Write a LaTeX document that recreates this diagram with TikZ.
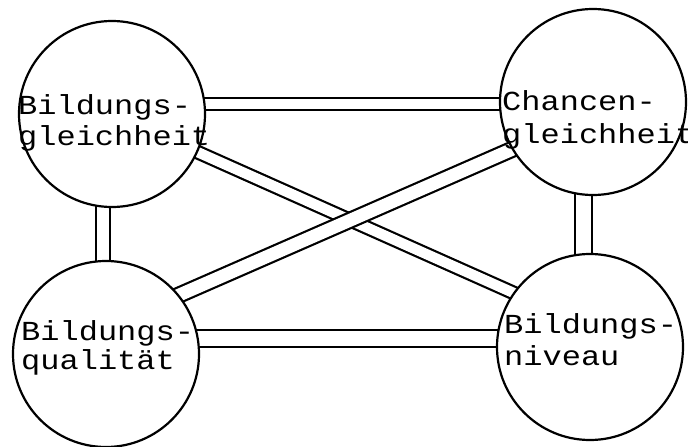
\documentclass[tikz,border=0pt]{standalone}
\usepackage{fontspec}
\usepackage{graphicx}
\newfontfamily\typew{Liberation Mono}
\newcommand\twtext[1]{\scalebox{1}[0.86]{#1}}
\usetikzlibrary{backgrounds}
\begin{document}
\begin{tikzpicture}[x=1pt,y=-1pt,
  bubble/.style={circle,draw,line width=2.2pt,fill=white,minimum size=186pt,inner sep=0pt},
  lbl/.style={anchor=base west,inner sep=0pt,font=\typew\fontsize{32}{32}\selectfont},
  conn/.style={line width=2.2pt,double=white,double distance=#1},
  conn/.default=12pt
]
\useasboundingbox (0,0) rectangle (688,447);
\node[bubble] (tl) at (112,114) {};
\node[bubble] (tr) at (593,102) {};
\node[bubble] (bl) at (106,354) {};
\node[bubble] (br) at (590,347) {};
\begin{pgfonlayer}{background}
\draw[conn=9.4pt] ([yshift=10pt]tl.center) -- ([yshift=-2pt]tr.center);
\draw[conn=11.8pt] ([xshift=-9pt]tl.center) -- ([xshift=-3pt]bl.center);
\draw[conn=14.8pt] ([xshift=-9.5pt]tr.center) -- ([xshift=-6.5pt]br.center);
\draw[conn=14.8pt] ([yshift=15.5pt]bl.center) -- ([yshift=8.5pt]br.center);
\draw[conn=10.3pt] (tl.center) -- ([yshift=20pt]br.center);
\draw[conn=12.8pt] ([yshift=27pt]bl.center) -- ([yshift=-12pt]tr.center);
\end{pgfonlayer}
\node[lbl] (tla) at (18,114) {\twtext{Bildungs-}};
\node[lbl] (tlb) at (18,145) {\twtext{gleichheit}};
\node[lbl] (tra) at (502,110) {\twtext{Chancen-}};
\node[lbl] (trb) at (502,143) {\twtext{gleichheit}};
\node[lbl] (bla) at (21,340) {\twtext{Bildungs-}};
\node[lbl] (blb) at (21,369) {\twtext{qualität}};
\node[lbl] (bra) at (504,333) {\twtext{Bildungs-}};
\node[lbl] (brb) at (504,365) {\twtext{niveau}};
\end{tikzpicture}
\end{document}
